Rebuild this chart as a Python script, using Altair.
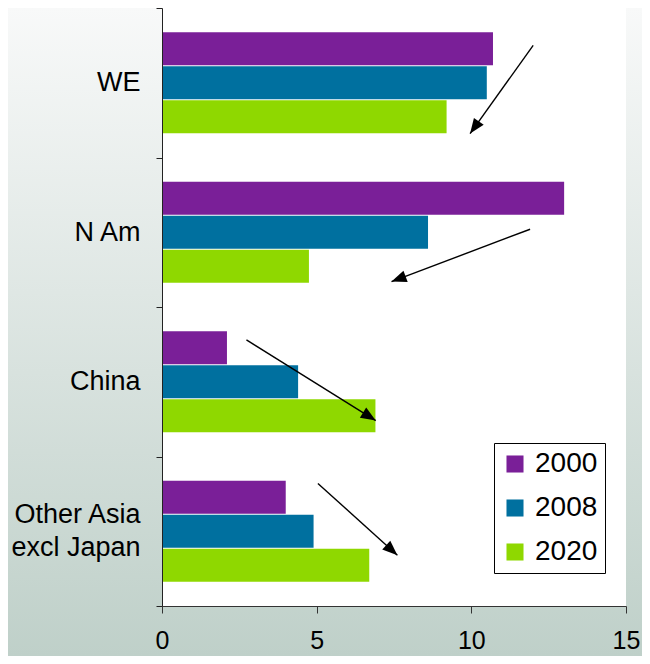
import math
import altair as alt
import pandas as pd

# ---- data ----
regions = ["WE", "N Am", "China", "Other Asia|excl Japan"]
years = ["2000", "2008", "2020"]
v2000 = [10.7, 13.0, 2.1, 4.0]
v2008 = [10.5, 8.6, 4.4, 4.9]
v2020 = [9.2, 4.75, 6.9, 6.7]
colors = ["#7a1f98", "#00709f", "#8fd800"]

# arrows (x in data units, y in category units from top: 0..4)
arrow_x0 = [12.0, 11.9, 2.73, 5.04]
arrow_y0 = [0.25, 1.48, 2.22, 3.18]
arrow_x1 = [9.96, 7.42, 6.91, 7.61]
arrow_y1 = [0.84, 1.83, 2.76, 3.66]

W, H = 464, 598
PL, PR, PT, PB = 154, 16, 0, 50

rows = []
for vals, yr in zip([v2000, v2008, v2020], years):
    for r, v in zip(regions, vals):
        rows.append({"region": r, "year": yr, "value": v})
bars_df = pd.DataFrame(rows)

arrows = []
for x0, y0, x1, y1 in zip(arrow_x0, arrow_y0, arrow_x1, arrow_y1):
    dx = (x1 - x0) * W / 15
    dy = (y1 - y0) * H / 4
    ang = math.degrees(math.atan2(dx, -dy)) % 360
    arrows.append({"x0": x0, "y0": y0, "x1": x1, "y1": y1, "angle": ang})
arrows_df = pd.DataFrame(arrows)

FONT = "Liberation Sans"

bg = alt.Chart(alt.Data(values=[{}])).mark_rect(
    fill=alt.Gradient(
        gradient="linear",
        stops=[alt.GradientStop(color="#f8f9f9", offset=0),
               alt.GradientStop(color="#bfd0c9", offset=1)],
        x1=0, x2=0, y1=0, y2=1),
).encode(x=alt.value(-PL), x2=alt.value(W + PR), y=alt.value(-PT), y2=alt.value(H + PB))

plotbg = alt.Chart(alt.Data(values=[{}])).mark_rect(fill="white").encode(
    x=alt.value(0), x2=alt.value(W), y=alt.value(0), y2=alt.value(H))

xscale = alt.Scale(domain=[0, 15], nice=False, zero=True)

bars = alt.Chart(bars_df).mark_bar().encode(
    x=alt.X("value:Q", scale=xscale,
            axis=alt.Axis(values=[0, 5, 10, 15], grid=False, title=None,
                          labelFontSize=25, labelFont=FONT, labelColor="black",
                          tickSize=7, tickColor="#333", domainColor="#333",
                          labelPadding=15, labelFlush=False, zindex=1)),
    y=alt.Y("region:N", sort=regions,
            scale=alt.Scale(paddingInner=0, paddingOuter=0),
            axis=alt.Axis(title=None, labelExpr="split(datum.label, '|')",
                          labelFontSize=27, labelFont=FONT, labelColor="black",
                          labelLineHeight=33, tickBand="extent", tickSize=6,
                          tickColor="#222", domainColor="#222",
                          labelOffset={"condition": {"test": "indexof(datum.label, '|') >= 0",
                                                     "value": -16.5},
                                       "value": 0},
                          labelPadding=16, zindex=1)),
    yOffset=alt.YOffset("year:N", sort=years,
                        scale=alt.Scale(paddingInner=0.03, paddingOuter=0.713)),
    color=alt.Color("year:N", sort=years,
                    scale=alt.Scale(domain=years, range=colors),
                    legend=alt.Legend(title=None, orient="none", legendX=332, legendY=435,
                                      fillColor="white", strokeColor="black",
                                      padding=7, rowPadding=16,
                                      labelFontSize=28, labelFont=FONT, labelColor="black",
                                      symbolType="square", symbolSize=290,
                                      symbolStrokeWidth=0, labelOffset=6)),
)

yq = alt.Scale(domain=[0, 4], reverse=True, nice=False, zero=False)

lines = alt.Chart(arrows_df).mark_rule(color="black", strokeWidth=1.4).encode(
    x=alt.X("x0:Q", scale=xscale), x2="x1:Q",
    y=alt.Y("y0:Q", scale=yq, axis=None), y2="y1:Q")

heads = alt.Chart(arrows_df).mark_point(
    shape="M0,0L-0.4,1L0.4,1Z", filled=True, color="black", opacity=1, size=900
).encode(
    x=alt.X("x1:Q", scale=xscale),
    y=alt.Y("y1:Q", scale=yq, axis=None),
    angle=alt.Angle("angle:Q", scale=None))

chart = alt.layer(bg, plotbg, bars, lines, heads).resolve_scale(
    y="independent", yOffset="independent"
).properties(
    width=W, height=H,
    autosize=alt.AutoSizeParams(type="none"),
    padding={"left": PL, "right": PR, "top": PT, "bottom": PB},
).configure_view(stroke=None)

chart.save("out.html", embed_options={"renderer": "svg", "actions": False})
